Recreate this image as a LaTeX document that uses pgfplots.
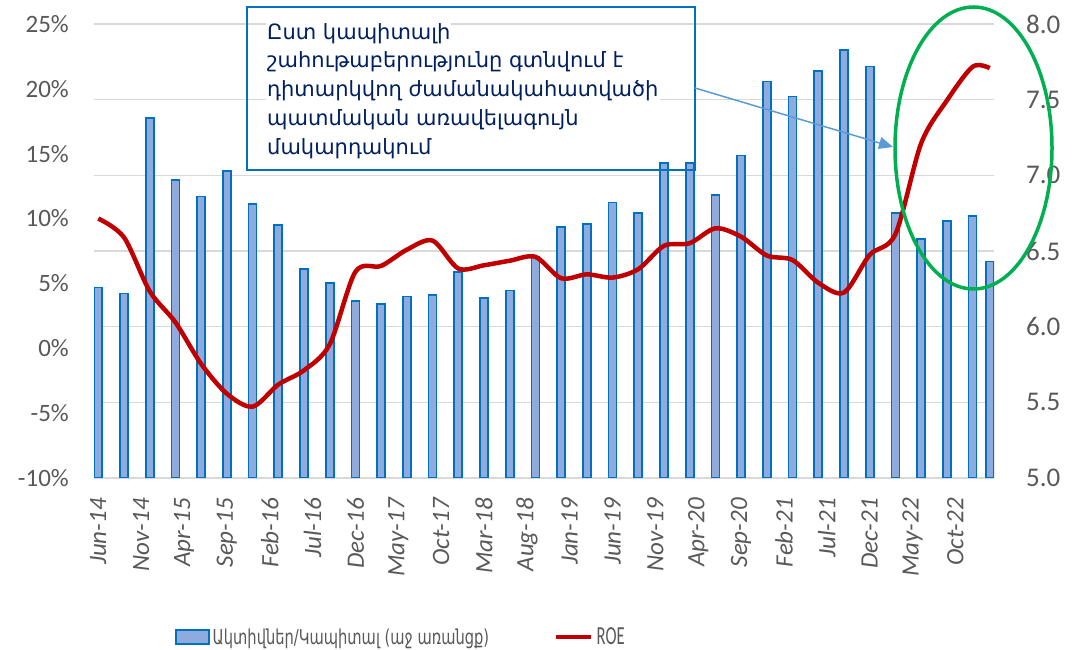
\documentclass[border=0pt]{standalone}
\usepackage{fontspec}
\setmainfont{Carlito}
\newfontfamily\armfont{DejaVu Sans}
\usepackage{graphicx}
\usepackage{pgfplots}
\pgfplotsset{compat=1.18}
\usepackage{pgfplotstable}
\usetikzlibrary{arrows.meta}
\definecolor{barfill}{HTML}{8FAADC}
\definecolor{barline}{HTML}{0070C0}
\definecolor{roe}{HTML}{C00000}
\definecolor{gridc}{HTML}{D9D9D9}
\definecolor{tickc}{HTML}{595959}
\definecolor{notec}{HTML}{002060}
\definecolor{arrowc}{HTML}{5B9BD5}
\definecolor{ellc}{HTML}{00B050}

\pgfplotstableread{
m ratio
0 6.26
3 6.22
6 7.38
9 6.97
12 6.86
15 7.03
18 6.81
21 6.67
24 6.38
27 6.29
30 6.17
33 6.15
36 6.20
39 6.21
42 6.36
45 6.19
48 6.24
51 6.46
54 6.66
57 6.68
60 6.82
63 6.75
66 7.08
69 7.08
72 6.87
75 7.13
78 7.62
81 7.52
84 7.69
87 7.83
90 7.72
93 6.75
96 6.58
99 6.70
102 6.73
104 6.43
}\ratiotable

\pgfplotstableread{
m roe
0 10.0
3 8.55
6 4.4
9 2.0
12 -1.2
15 -3.5
18 -4.5
21 -2.8
24 -1.7
27 0.3
30 5.9
33 6.35
36 7.6
39 8.3
42 6.15
45 6.4
48 6.75
51 7.05
54 5.4
57 5.7
60 5.45
63 6.1
66 7.9
69 8.1
72 9.25
75 8.6
78 7.15
81 6.8
84 5.05
87 4.3
90 7.2
93 8.8
96 15.8
99 19.1
102 21.7
104 21.6
}\roetable

\begin{document}
\begin{tikzpicture}
\path[use as bounding box] (0pt,0pt) rectangle (1082pt,650pt);
\begin{axis}[
  at={(94pt,172pt)}, anchor=south west,
  scale only axis, width=900pt, height=454pt,
  xmin=-0.5, xmax=104.5, ymin=5, ymax=8,
  axis y line*=right, axis x line*=bottom,
  axis line style={draw=none},
  tick style={draw=none},
  ytick={5,5.5,...,8},
  ymajorgrids, grid style={gridc, line width=1.3pt},
  xtick={0,5,...,100},
  xticklabels={Jun-14,Nov-14,Apr-15,Sep-15,Feb-16,Jul-16,Dec-16,May-17,Oct-17,Mar-18,Aug-18,Jan-19,Jun-19,Nov-19,Apr-20,Sep-20,Feb-21,Jul-21,Dec-21,May-22,Oct-22},
  xticklabel style={rotate=90, anchor=east, inner sep=0pt, font=\fontsize{25}{25}\selectfont\itshape, text=tickc},
  xticklabel shift=20pt,
  yticklabel style={anchor=west, inner sep=0pt, font=\fontsize{27}{27}\selectfont, text=tickc, /pgf/number format/.cd, fixed, fixed zerofill, precision=1, assume math mode=true},
  yticklabel shift=32pt,
]
\addplot[ybar, bar width=8pt, fill=barfill, draw=barline, line width=1.6pt] table[x=m, y=ratio] {\ratiotable};
\end{axis}

\begin{axis}[
  at={(94pt,172pt)}, anchor=south west,
  scale only axis, width=900pt, height=454pt,
  xmin=-0.5, xmax=104.5, ymin=-10, ymax=25,
  axis y line*=left, hide x axis,
  axis line style={draw=none}, tick style={draw=none},
  ytick={-10,-5,...,25},
  yticklabel={\pgfmathprintnumber{\tick}\%},
  yticklabel style={anchor=east, inner sep=0pt, font=\fontsize{25}{25}\selectfont, text=tickc, /pgf/number format/assume math mode=true},
  yticklabel shift=25pt,
  legend columns=2,
  legend cell align=left,
  legend style={at={(0.09,-0.3502)}, anchor=west, draw=none, fill=none, inner sep=0pt, text=tickc, nodes={inner sep=3pt},
    /tikz/every even column/.append style={column sep=62pt}},
]
\addlegendimage{legend image code/.code={\draw[fill=barfill, draw=barline, line width=1.5pt] (0pt,-7pt) rectangle (33pt,7pt);}}
\addlegendentry{\scalebox{0.715}[1]{\armfont\fontsize{20.5}{20.5}\selectfont Ակտիվներ/Կապիտալ (աջ առանցք)}}
\addplot[roe, line width=4.5pt, smooth, legend image code/.code={\draw[roe, line width=4.5pt] (0pt,0pt) -- (35pt,0pt);}] table[x=m, y=roe] {\roetable};
\addlegendentry{\scalebox{0.64}[1]{\fontsize{26}{26}\selectfont ROE}}
\end{axis}

% annotation
\draw[barline, line width=1.3pt] (247pt,480pt) rectangle (695pt,643pt);
\begin{scope}[every node/.style={anchor=base west, fill=white, inner sep=1pt, text=notec, font=\armfont\fontsize{21}{21}\selectfont}]
\node at (266pt,610pt) {Ըստ կապիտալի};
\node at (266pt,582pt) {շահութաբերությունը գտնվում է};
\node at (266pt,553pt) {դիտարկվող ժամանակահատվածի};
\node at (266pt,524pt) {պատմական առավելագույն};
\node at (266pt,495pt) {մակարդակում};
\end{scope}
\draw[arrowc, line width=1.5pt, -{Triangle[length=14pt,width=12pt]}] (695pt,562pt) -- (893pt,503pt);
\draw[ellc, line width=3.5pt] (973.5pt,502pt) ellipse [x radius=78.5pt, y radius=141pt];
\end{tikzpicture}
\end{document}
